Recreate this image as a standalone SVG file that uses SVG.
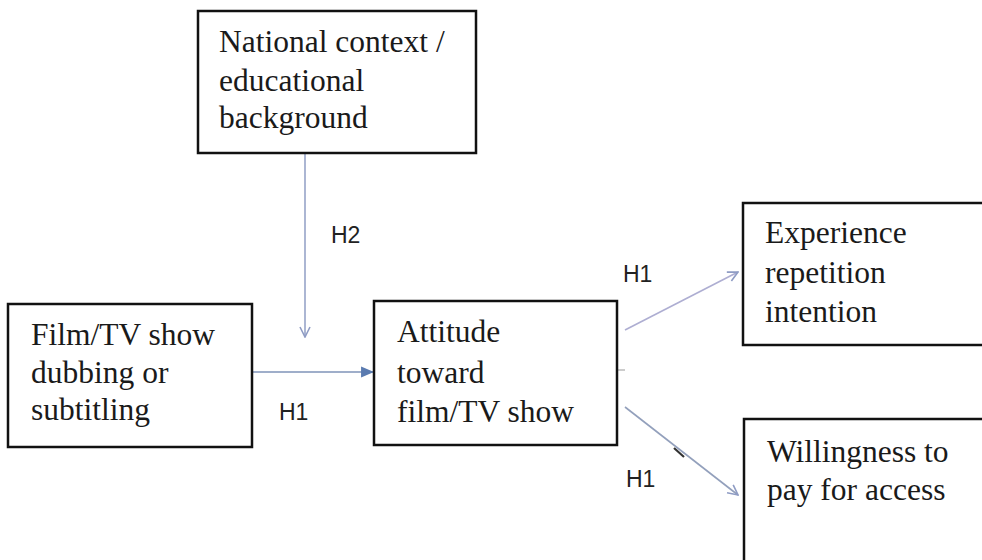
<svg xmlns="http://www.w3.org/2000/svg" width="982" height="560" viewBox="0 0 982 560">
<defs>
<style>
.box{fill:#fff;stroke:#111;stroke-width:2.5}
.t{font-size:31.5px;fill:#1a1a1a}
.h{font-size:23px;fill:#222}
.c{fill:none;stroke-width:1.6}
</style>
<marker id="open" viewBox="0 0 12 12" refX="11" refY="6" markerWidth="12" markerHeight="12" markerUnits="userSpaceOnUse" orient="auto">
<path d="M1,1 L11,6 L1,11" fill="none" stroke="#8f9cc4" stroke-width="1.6"/>
</marker>
<marker id="fill" viewBox="0 0 12 12" refX="11" refY="6" markerWidth="13" markerHeight="13" markerUnits="userSpaceOnUse" orient="auto">
<path d="M0,1 L12,6 L0,11 Z" fill="#5a7bb0"/>
</marker>
</defs>
<rect width="982" height="560" fill="#fff"/>
<g id="connectors" font-family="'Liberation Sans', Arial, sans-serif">
<line class="c" x1="305" y1="153" x2="305" y2="337" stroke="#97a4c8" marker-end="url(#open)"/>
<line class="c" x1="252" y1="372" x2="373" y2="372" stroke="#7f93b8" marker-end="url(#fill)"/>
<line class="c" x1="625" y1="330" x2="738" y2="272" stroke="#aeaed2" marker-end="url(#open)"/>
<line class="c" x1="625" y1="407" x2="738" y2="495" stroke="#93a0bc" marker-end="url(#open)"/>
<line x1="617" y1="370" x2="625" y2="370" stroke="#999" stroke-width="1"/>
<line x1="674" y1="448" x2="684" y2="457" stroke="#333" stroke-width="2.2"/>
<text class="h" x="331" y="243">H2</text>
<text class="h" x="279" y="420">H1</text>
<text class="h" x="623" y="282">H1</text>
<text class="h" x="626" y="487">H1</text>
</g>
<g id="nodes" font-family="'Liberation Serif', 'Times New Roman', 'DejaVu Serif', serif">
<g id="node-national">
<rect class="box" x="198" y="11" width="278" height="142"/>
<text class="t" x="219" y="52">National context /</text>
<text class="t" x="219" y="91">educational</text>
<text class="t" x="219" y="128">background</text>
</g>
<g id="node-film">
<rect class="box" x="8" y="304" width="244" height="143"/>
<text class="t" x="31" y="345">Film/TV show</text>
<text class="t" x="31" y="383">dubbing or</text>
<text class="t" x="31" y="420">subtitling</text>
</g>
<g id="node-attitude">
<rect class="box" x="374" y="301" width="243" height="144"/>
<text class="t" x="397" y="342">Attitude</text>
<text class="t" x="397" y="383">toward</text>
<text class="t" x="397" y="422">film/TV show</text>
</g>
<g id="node-experience">
<rect class="box" x="743" y="203" width="250" height="142"/>
<text class="t" x="765" y="243">Experience</text>
<text class="t" x="765" y="283">repetition</text>
<text class="t" x="765" y="322">intention</text>
</g>
<g id="node-willingness">
<rect class="box" x="744" y="419" width="250" height="160"/>
<text class="t" x="767" y="462">Willingness to</text>
<text class="t" x="767" y="500">pay for access</text>
</g>
</g>
</svg>
